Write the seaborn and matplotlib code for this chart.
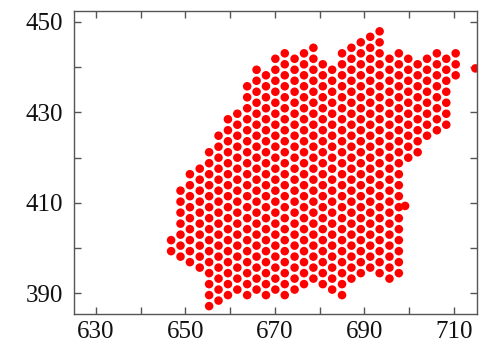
import numpy as np
import pandas as pd
import matplotlib
matplotlib.use("Agg")
import matplotlib.pyplot as plt
import seaborn as sns

# Packed grains: vertical columns of a hexagonal lattice.
# Each column: x position, lowest y, number of grains stacked upward.
col_x = [646.8, 648.9, 651.0, 653.2, 655.3, 657.4, 659.5, 661.6, 663.8, 665.9,
         668.0, 670.1, 672.2, 674.4, 676.5, 678.6, 680.7, 682.8, 685.0, 687.1,
         689.2, 691.3, 693.4, 695.6, 697.7, 699.8, 701.9, 704.0, 706.2, 708.3,
         710.4]
col_y0 = [399.30, 398.09, 396.87, 395.66, 387.15, 388.37, 389.58, 390.80, 389.58, 390.80,
          389.58, 390.80, 389.58, 390.80, 392.01, 393.23, 392.01, 390.80, 389.58, 393.23,
          394.44, 395.66, 394.44, 393.23, 394.44, 419.96, 421.17, 424.82, 426.03, 427.25,
          438.18]
col_n = [2, 7, 9, 10, 15, 16, 17, 17, 20, 21,
         21, 22, 23, 22, 22, 22, 21, 21, 23, 22,
         22, 22, 23, 21, 21, 10, 9, 8, 8, 7,
         3]
row_step = 2.43

# Grains standing off the main cluster
extra_x = [699.1, 714.8]
extra_y = [409.3, 439.7]

xs, ys = [], []
for x, y0, n in zip(col_x, col_y0, col_n):
    for j in range(n):
        xs.append(x)
        ys.append(y0 + row_step * j)
xs += extra_x
ys += extra_y
df = pd.DataFrame({"x": xs, "y": ys})

sns.set_style("ticks")
plt.rcParams["font.family"] = "serif"
plt.rcParams["font.serif"] = ["Liberation Serif", "DejaVu Serif"]

fig = plt.figure(figsize=(4.85, 3.43), dpi=100)
ax = fig.add_axes([0.1526, 0.0845, 0.8303, 0.8835])

sns.scatterplot(data=df, x="x", y="y", ax=ax, color="#ff0000", s=38,
                linewidth=0, edgecolor="none", legend=False, clip_on=True)

ax.set_xlim(625.1, 715.1)
ax.set_ylim(385.4, 452.4)
ax.set_xticks([630, 650, 670, 690, 710])
ax.set_yticks([390, 410, 430, 450])
ax.set_xticks([640, 660, 680, 700], minor=True)
ax.set_yticks([400, 420, 440], minor=True)
ax.set_xlabel("")
ax.set_ylabel("")

for sp in ax.spines.values():
    sp.set_visible(True)
    sp.set_color("#555555")
    sp.set_linewidth(1.0)

ax.tick_params(which="both", direction="in", top=True, right=True,
               color="#555555", width=1.0, length=5)
ax.tick_params(axis="y", which="major", labelsize=18, pad=8, labelcolor="#111111")
ax.tick_params(axis="x", which="major", labelsize=18, pad=5, labelcolor="#111111")

fig.savefig("out.png", dpi=100)
